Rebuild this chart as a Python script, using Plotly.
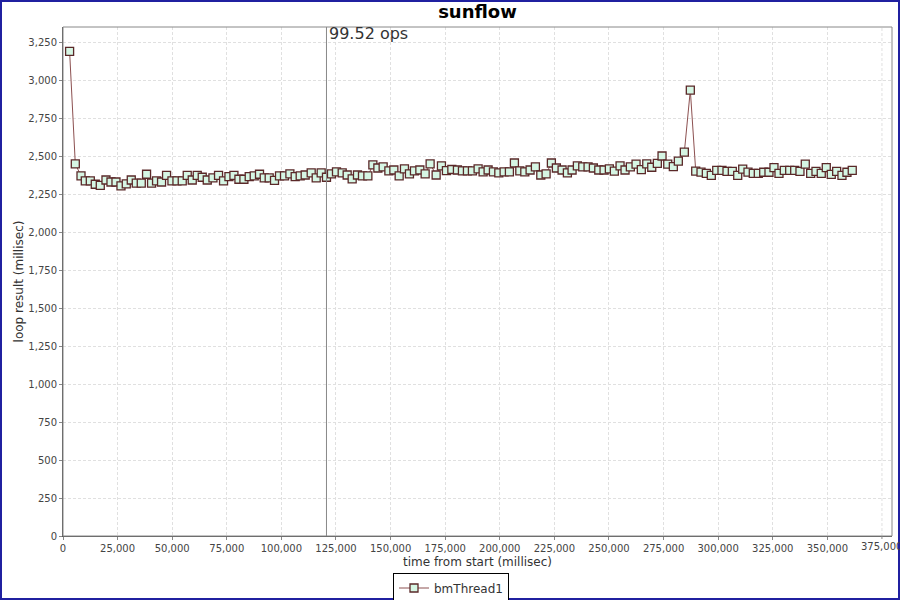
import plotly.graph_objects as go

title_text = "sunflow"
series_name = "bmThread1"
marker_label = "99.52 ops"
marker_time = 120650
x_title = "time from start (millisec)"
y_title = "loop result (millisec)"

time_ms = [
    3020, 5630, 8240, 10210, 12500, 14780, 17070, 19680, 21970, 24260,
    26550, 28970, 31260, 33550, 35840, 38260, 40550, 42840, 45130, 47420,
    49890, 52180, 54600, 56890, 59180, 61470, 63760, 66050, 68660, 71220,
    73510, 75980, 78270, 80560, 82840, 85270, 87560,
    89980, 92140, 94420, 96850, 99140, 101430, 103900, 106320, 108610, 110900,
    113650, 115940, 118220, 120650, 122940, 125230, 127840, 130120, 132410, 134840,
    137130, 139600, 141890, 144180, 146600, 149210, 151500, 153930, 156350, 158640,
    160930, 163400, 165830, 168110, 170860, 173290, 175570,
    178050, 180610, 182900, 185190, 187470, 190080, 192370, 194660, 197090, 199560,
    201980, 204410, 206700, 209170, 211460, 213880, 216310, 218780, 221210, 223630,
    225920, 228530, 230960, 233110, 235530, 238000, 240430, 242860, 245330, 247750,
    250180, 252470, 255080, 257360, 259790, 262400, 264820,
    267300, 269590, 272150, 274300, 276910, 279470, 281760, 284510, 287250, 289720,
    292150, 294580, 296860, 299340, 301760, 304050, 306480, 308950, 311240, 313660,
    316090, 318380, 320850, 323270, 325560, 327850, 330280, 332750, 335040, 337460,
    339890, 342360, 344790, 347210, 349500, 351790, 354260, 356690, 358970, 361400,
]

loop_ms = [
    3190, 2449, 2370, 2337, 2337, 2315, 2308, 2343, 2330, 2330,
    2304, 2317, 2343, 2322, 2322, 2381, 2322, 2337, 2330, 2374,
    2337, 2337, 2337, 2374, 2343, 2374, 2361, 2343, 2357, 2374,
    2337, 2365, 2374, 2348, 2348, 2365, 2370,
    2381, 2357, 2357, 2341, 2370, 2370, 2383, 2365, 2370, 2376,
    2390, 2357, 2390, 2361, 2383, 2396, 2390, 2376, 2350, 2376,
    2370, 2370, 2442, 2422, 2429, 2403, 2409, 2370, 2416, 2383,
    2403, 2409, 2383, 2449, 2376, 2436, 2405,
    2412, 2409, 2403, 2403, 2403, 2416, 2396, 2409, 2396, 2390,
    2396, 2396, 2455, 2403, 2396, 2409, 2429, 2376, 2383, 2455,
    2422, 2409, 2390, 2409, 2436, 2429, 2429, 2422, 2409, 2409,
    2416, 2401, 2436, 2409, 2429, 2448, 2411,
    2449, 2427, 2453, 2501, 2447, 2431, 2467, 2526, 2934, 2402,
    2395, 2386, 2373, 2407, 2407, 2400, 2400, 2373, 2415, 2395,
    2387, 2387, 2394, 2394, 2424, 2387, 2407, 2407, 2407, 2400,
    2448, 2387, 2400, 2387, 2424, 2380, 2400, 2373, 2394, 2407,
]

x_ticks = list(range(0, 350001, 25000))
x_last_tick = 375000
y_ticks = list(range(0, 3251, 250))

FONT = "DejaVu Sans, Liberation Sans, sans-serif"
TICK_COLOR = "#444444"
GRID_COLOR = "#e0e0e0"
GRID_DASH = "3px,2px"

fig = go.Figure()
fig.add_trace(go.Scatter(
    x=time_ms, y=loop_ms, mode="lines+markers", name=series_name,
    line=dict(color="#8c5050", width=1),
    marker=dict(symbol="square", size=8, color="#d6f6e4",
                line=dict(color="#5a2828", width=1.3)),
))

fig.add_shape(type="line", xref="x", yref="paper", x0=marker_time, x1=marker_time,
              y0=0, y1=1, line=dict(color="#888888", width=1))
fig.add_annotation(x=marker_time, y=1, xref="x", yref="paper", text=marker_label,
                   showarrow=False, xanchor="left", yanchor="top", xshift=1, yshift=5,
                   font=dict(family=FONT, size=16, color="#333333"))

# last tick label, partially cut off at the right edge like the original
fig.add_shape(type="line", xref="x", yref="paper", x0=x_last_tick, x1=x_last_tick,
              y0=0, y1=1, line=dict(color=GRID_COLOR, width=1, dash=GRID_DASH), layer="below")
fig.add_shape(type="line", xref="x", yref="paper", x0=x_last_tick, x1=x_last_tick,
              y0=0, y1=-3 / 509, line=dict(color="#888888", width=1))
fig.add_annotation(x=x_last_tick, y=0, xref="x", yref="paper", text=f"{x_last_tick:,}",
                   showarrow=False, xanchor="center", yanchor="top", yshift=-3,
                   font=dict(family=FONT, size=10, color=TICK_COLOR))

# plot border
fig.add_shape(type="rect", xref="paper", yref="paper", x0=0, x1=1, y0=0, y1=1,
              line=dict(color="#888888", width=1), layer="above")
# outer chart border
pw, ph = 829, 509
fig.add_shape(type="rect", xref="paper", yref="paper",
              x0=(1 - 63) / pw, x1=(899 - 63) / pw,
              y0=(536 - 599) / ph, y1=(536 - 1) / ph,
              line=dict(color="#2020a0", width=2))

fig.update_layout(
    width=900, height=600,
    margin=dict(l=63, r=8, t=27, b=64, autoexpand=False),
    paper_bgcolor="white", plot_bgcolor="white",
    font=dict(family=FONT, size=11, color=TICK_COLOR),
    title=dict(text="<b>" + title_text + "</b>", x=0.5, xref="paper", xanchor="center",
               y=1 - 5 / 600, yref="container", yanchor="top",
               font=dict(family=FONT, size=18, color="black")),
    showlegend=True,
    legend=dict(orientation="h", x=(451 - 63) / pw, xanchor="center",
                y=(536 - 588) / ph, yanchor="middle",
                bordercolor="black", borderwidth=1, bgcolor="white",
                font=dict(family=FONT, size=12, color="#333333"),
                itemwidth=30, tracegroupgap=0),
)
fig.update_xaxes(
    range=[0, 379600], tickvals=x_ticks, tickformat=",d", automargin=False,
    showgrid=True, gridcolor=GRID_COLOR, griddash=GRID_DASH, gridwidth=1,
    showline=True, linecolor="#555555", linewidth=1,
    ticks="outside", ticklen=3, tickcolor="#888888",
    zeroline=False,
    title=dict(text=x_title, font=dict(family=FONT, size=12, color="#333333"), standoff=4),
    tickfont=dict(family=FONT, size=10, color=TICK_COLOR),
)
fig.update_yaxes(
    range=[0, 3350], tickvals=y_ticks, tickformat=",d", automargin=False,
    showgrid=True, gridcolor=GRID_COLOR, griddash=GRID_DASH, gridwidth=1,
    showline=True, linecolor="#555555", linewidth=1,
    ticks="outside", ticklen=3, tickcolor="#888888",
    zeroline=False,
    title=dict(text=y_title, font=dict(family=FONT, size=12, color="#333333"), standoff=2),
    tickfont=dict(family=FONT, size=10, color=TICK_COLOR),
)

fig.write_html(
    "out.html",
    config={"displayModeBar": False},
    post_script="document.body.style.margin='0';document.body.style.padding='0';",
)
